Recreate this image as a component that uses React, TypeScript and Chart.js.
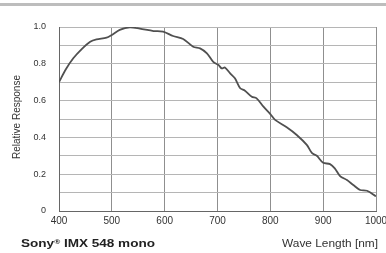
import React, { useEffect, useRef } from 'react';
import { Chart, registerables } from 'chart.js';

Chart.register(...registerables);

const wavelengths = [400, 413, 427, 443, 459, 471, 490, 500, 515, 534, 553, 579, 597, 616, 635, 654, 667, 680, 692, 702, 708, 714, 724, 733, 743, 752, 765, 774, 787, 800, 809, 831, 850, 869, 879, 888, 900, 913, 922, 932, 945, 957, 970, 983, 1000];
const response = [0.70, 0.77, 0.83, 0.88, 0.92, 0.933, 0.942, 0.957, 0.984, 0.998, 0.991, 0.978, 0.975, 0.951, 0.935, 0.893, 0.884, 0.857, 0.81, 0.793, 0.775, 0.78, 0.748, 0.721, 0.667, 0.654, 0.621, 0.612, 0.567, 0.527, 0.495, 0.455, 0.413, 0.359, 0.314, 0.30, 0.262, 0.255, 0.232, 0.19, 0.168, 0.141, 0.114, 0.11, 0.08];

const xMin = 400;
const xMax = 1000;
const xStep = 100;
const yMin = 0;
const yMax = 1;
const yStep = 0.1;

const yTitle = 'Relative Response';
const xTitle = 'Wave Length [nm]';
const productName = 'Sony';
const productSuffix = ' IMX 548 mono';

const FONT = '"Liberation Sans", Arial, sans-serif';

export default function App() {
  const ref = useRef<HTMLCanvasElement>(null);

  useEffect(() => {
    document.body.style.margin = '0';
    const canvas = ref.current!;

    const drawScaled = (ctx: CanvasRenderingContext2D, parts: { text: string; font: string; dy: number }[], x: number, y: number, targetW: number) => {
      let total = 0;
      for (const p of parts) { ctx.font = p.font; total += ctx.measureText(p.text).width; }
      const sx = targetW / total;
      ctx.save();
      ctx.translate(x, y);
      ctx.scale(sx, 1);
      let cx = 0;
      for (const p of parts) {
        ctx.font = p.font;
        ctx.fillText(p.text, cx, p.dy);
        cx += ctx.measureText(p.text).width;
      }
      ctx.restore();
    };

    const decor = {
      id: 'decor',
      afterDraw(chart: any) {
        const ctx: CanvasRenderingContext2D = chart.ctx;
        ctx.save();
        ctx.fillStyle = '#bdbdbd';
        ctx.fillRect(0, 3, chart.width, 3);

        ctx.fillStyle = '#222';
        ctx.textBaseline = 'alphabetic';
        ctx.textAlign = 'left';
        drawScaled(ctx, [
          { text: productName, font: `bold 10px ${FONT}`, dy: 0 },
          { text: '\u00AE', font: `bold 6px ${FONT}`, dy: -3.5 },
          { text: productSuffix, font: `bold 10px ${FONT}`, dy: 0 },
        ], 21, 247, 134);

        ctx.fillStyle = '#333';
        drawScaled(ctx, [{ text: xTitle, font: `10px ${FONT}`, dy: 0 }], 282, 247, 96);

        ctx.save();
        ctx.translate(20, 117);
        ctx.rotate(-Math.PI / 2);
        ctx.font = `10px "Liberation Sans Narrow", ${FONT}`;
        ctx.textAlign = 'center';
        ctx.fillStyle = '#333';
        ctx.fillText(yTitle, 0, 0);
        ctx.restore();
        ctx.restore();
      },
    };

    const chart = new Chart(canvas, {
      type: 'line',
      data: {
        datasets: [{
          data: wavelengths.map((w, i) => ({ x: w, y: response[i] })),
          borderColor: '#505050',
          borderWidth: 1.8,
          pointRadius: 0,
          tension: 0.3,
          fill: false,
        }],
      },
      options: {
        animation: false,
        responsive: false,
        devicePixelRatio: 1,
        layout: { padding: { left: 0, right: 10, top: 27, bottom: 22 } },
        plugins: { legend: { display: false }, tooltip: { enabled: false } },
        scales: {
          x: {
            type: 'linear',
            min: xMin,
            max: xMax,
            ticks: {
              stepSize: xStep,
              padding: 4,
              color: '#333',
              font: { family: FONT, size: 10 },
              callback: (v: any) => String(v),
            },
            grid: { color: '#8f8f8f', drawTicks: false },
            border: { color: '#666' },
            afterFit: (s: any) => { s.height = 20; s.paddingRight = 0; s.paddingLeft = 0; },
          },
          y: {
            min: yMin,
            max: yMax,
            ticks: {
              stepSize: yStep,
              padding: 13,
              color: '#333',
              font: { family: FONT, size: 9 },
              callback: (v: any) => {
                const n = Math.round(Number(v) * 10);
                if (n % 2 !== 0) return '';
                return n === 0 ? '0' : (n / 10).toFixed(1);
              },
            },
            grid: { color: '#b5b5b5', drawTicks: false },
            border: { color: '#666' },
            afterFit: (s: any) => { s.width = 59; },
          },
        },
      } as any,
      plugins: [decor],
    });
    return () => chart.destroy();
  }, []);

  return <canvas ref={ref} width={386} height={253} style={{ display: 'block' }} />;
}
